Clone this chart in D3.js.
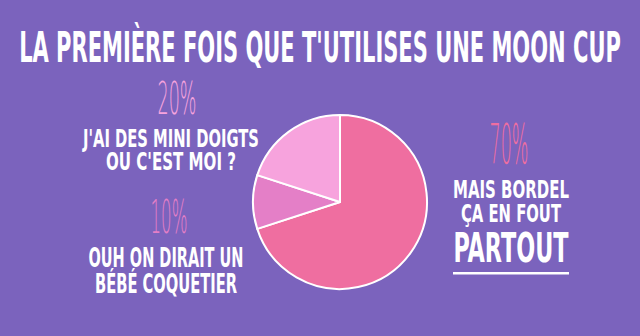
<!DOCTYPE html>
<meta charset="utf-8">
<title>moon cup</title>
<style>
body { margin: 0; background: #7b63bd; }
svg { display: block; }
.cond { font-family: "Liberation Sans Narrow", "DejaVu Sans Condensed", sans-serif; font-weight: bold; }
.thin { font-family: "DejaVu Sans", sans-serif; font-weight: 200; }
</style>
<svg width="640" height="336"></svg>
<script src="https://cdn.jsdelivr.net/npm/d3@7"></script>
<script>

var categories = ["MAIS BORDEL ÇA EN FOUT PARTOUT", "OUH ON DIRAIT UN BÉBÉ COQUETIER", "J'AI DES MINI DOIGTS OU C'EST MOI ?"];
var values = [70, 10, 20];
var pctLabels = ["70%", "10%", "20%"];
var colors = ["#ef6ea0", "#e47fc7", "#f7a3dd"];

var svg = d3.select("svg"),
    width = +svg.attr("width"),
    height = +svg.attr("height");

svg.append("rect").attr("width", width).attr("height", height).attr("fill", "#7b63bd");

// squeeze a text horizontally so it is w px wide, centred on x
function text(x, y, s, size, w, fill, cls) {
  var t = svg.append("text")
      .attr("class", cls || "cond")
      .attr("text-anchor", "middle")
      .attr("font-size", size)
      .attr("fill", fill)
      .text(s);
  var natural = t.node().getComputedTextLength();
  t.attr("transform", "translate(" + x + "," + y + ") scale(" + (w / natural) + ",1)");
  return t;
}

// several lines in one text element, each squeezed to its own width
// lines: [string, baseline, font size, width]
function block(x, lines) {
  var t = svg.append("text")
      .attr("class", "cond")
      .attr("text-anchor", "middle")
      .attr("fill", "#fff");
  lines.forEach(function(l) {
    t.append("tspan")
        .attr("x", x)
        .attr("y", l[1])
        .attr("font-size", l[2])
        .attr("textLength", l[3])
        .attr("lengthAdjust", "spacingAndGlyphs")
        .text(l[0]);
  });
  return t;
}

// title
text(320, 62, "LA PREMIÈRE FOIS QUE T'UTILISES UNE MOON CUP", 42, 602, "#fff");

var cx = 340, cy = 202, radius = 87;

var pie = d3.pie().sort(null).value(function(d) { return d; });
var arc = d3.arc().innerRadius(0).outerRadius(radius);

var g = svg.append("g").attr("transform", "translate(" + cx + "," + cy + ")");

g.selectAll("path")
    .data(pie(values))
  .enter().append("path")
    .attr("d", arc)
    .attr("fill", function(d, i) { return colors[i]; })
    .attr("stroke", "#fff")
    .attr("stroke-width", 2)
    .attr("stroke-linejoin", "round");

// 20%
text(177, 114, pctLabels[2], 44, 39, colors[2], "thin");
block(171, [["J'AI DES MINI DOIGTS", 147, 24, 176], ["OU C'EST MOI ?", 170, 24, 130]]);

// 10%
text(169, 233, pctLabels[1], 46, 37, colors[1], "thin");
block(166, [["OUH ON DIRAIT UN", 267, 26, 155], ["BÉBÉ COQUETIER", 293, 26, 142]]);

// 70%
text(509, 163, pctLabels[0], 56, 39, colors[0], "thin");
block(511, [["MAIS BORDEL", 198, 25, 116], ["ÇA EN FOUT", 222, 25, 100], ["PARTOUT", 262, 40, 115]]);
svg.append("rect").attr("x", 453).attr("y", 272).attr("width", 116).attr("height", 2.5).attr("fill", "#fff");

</script>
